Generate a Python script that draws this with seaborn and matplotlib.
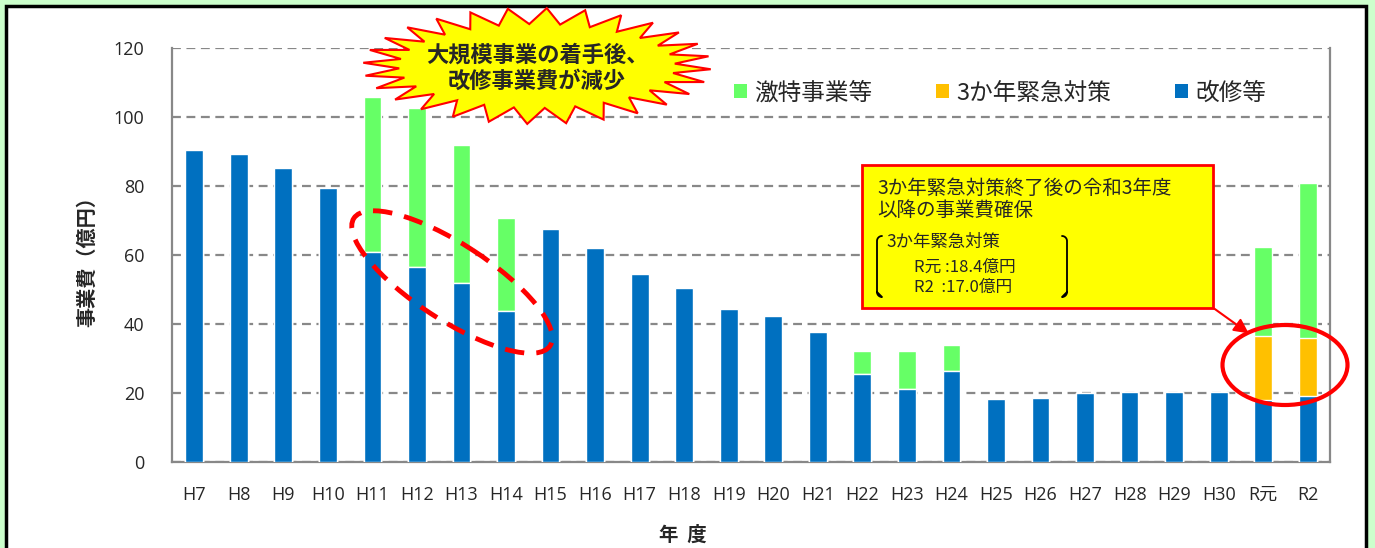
#======================================
#|   改修事業費の推移 (stacked bars)   |
#======================================

import numpy as np
import pandas as pd
import matplotlib
matplotlib.use("Agg")
import matplotlib.pyplot as plt
import seaborn as sns
from matplotlib.patches import Rectangle, Ellipse, Polygon, FancyArrowPatch, Patch

# ===============================
# 1. Data (億円)
# ===============================
years = ["H7", "H8", "H9", "H10", "H11", "H12", "H13", "H14", "H15", "H16",
         "H17", "H18", "H19", "H20", "H21", "H22", "H23", "H24", "H25", "H26",
         "H27", "H28", "H29", "H30", "R元", "R2"]

kaishu = [90.4, 89.2, 85.3, 79.3, 60.8, 56.4, 51.8, 43.8, 67.4, 61.9,
          54.4, 50.3, 44.3, 42.2, 37.8, 25.6, 21.1, 26.4, 18.3, 18.6,
          19.9, 20.3, 20.2, 20.2, 18.0, 19.0]

kinkyu = [0, 0, 0, 0, 0, 0, 0, 0, 0, 0,
          0, 0, 0, 0, 0, 0, 0, 0, 0, 0,
          0, 0, 0, 0, 18.4, 17.0]

gekitoku = [0, 0, 0, 0, 45.0, 46.2, 40.1, 27.0, 0, 0,
            0, 0, 0, 0, 0, 6.7, 11.0, 7.4, 0, 0,
            0, 0, 0, 0, 26.0, 44.8]

series_labels = ["激特事業等", "3か年緊急対策", "改修等"]
yticks = [0, 20, 40, 60, 80, 100, 120]

df = pd.DataFrame({"year": years, "kaishu": kaishu,
                   "kinkyu": kinkyu, "gekitoku": gekitoku})
df["mid"] = df["kaishu"] + df["kinkyu"]
df["total"] = df["mid"] + df["gekitoku"]

GREEN = "#66FF66"
ORANGE = "#FFC000"
BLUE = "#0070C0"
GRID = "#888888"

# ===============================
# 2. Figure setup
# ===============================
sns.set_style("white")
plt.rcParams["font.family"] = ["Open Sans", "Noto Sans CJK JP", "DejaVu Sans"]
JP = ["Noto Sans CJK JP", "DejaVu Sans"]

W, H = 1375, 548
fig = plt.figure(figsize=(W / 100, H / 100), dpi=100)
fig.patch.set_facecolor("#CCFFCC")

# background frame (white panel with black border)
bg = fig.add_axes([0, 0, 1, 1], zorder=0)
bg.set_xlim(0, W)
bg.set_ylim(H, 0)
bg.axis("off")
bg.add_patch(Rectangle((6, 6), 1360, 560, facecolor="white",
                       edgecolor="black", lw=2.5))

# main chart axes
ax = fig.add_axes([172 / W, 1 - 462 / H, (1330 - 172) / W, (462 - 48) / H], zorder=1)
ax.set_facecolor("none")

# stacked bars drawn as cumulative layers
sns.barplot(data=df, x="year", y="total", color=GREEN, width=0.4,
            saturation=1, ax=ax, zorder=3)
sns.barplot(data=df, x="year", y="mid", color=ORANGE, width=0.4,
            saturation=1, ax=ax, zorder=3)
sns.barplot(data=df, x="year", y="kaishu", color=BLUE, width=0.4,
            saturation=1, ax=ax, zorder=3)

ax.set_ylim(0, 120)
ax.set_xlim(-0.5, len(years) - 0.5)
ax.set_yticks(yticks)
ax.yaxis.grid(True, linestyle=(0, (4, 2.5)), color=GRID, lw=1.6, zorder=1)
ax.set_axisbelow(True)

for side in ["left", "bottom", "right"]:
    ax.spines[side].set_color(GRID)
    ax.spines[side].set_linewidth(1.6)
ax.spines["top"].set_visible(False)

ax.tick_params(axis="y", direction="in", length=5, color=GRID, width=1.2,
               pad=20, labelsize=13)
ax.tick_params(axis="x", which="major", length=0, pad=17, labelsize=13)
ax.set_xticks(np.arange(len(years)) + 0.5, minor=True)
ax.tick_params(axis="x", which="minor", direction="in", length=5,
               color=GRID, width=1.2)

ax.set_xlabel("")
ax.set_ylabel("")

# legend
handles = [Patch(facecolor=c, edgecolor="none") for c in [GREEN, ORANGE, BLUE]]
fig.legend(handles, series_labels, loc="center left",
           bbox_to_anchor=(713 / W, 1 - 93 / H), ncol=3, frameon=False,
           prop={"family": JP, "size": 17}, handlelength=0.55,
           handleheight=0.55, handletextpad=0.3, columnspacing=2.7)

# ===============================
# 3. Annotations (pixel overlay)
# ===============================
ov = fig.add_axes([0, 0, 1, 1], zorder=5)
ov.set_xlim(0, W)
ov.set_ylim(H, 0)
ov.axis("off")

# axis titles
ov.text(683, 535, "年  度", family=JP, fontsize=14, fontweight="bold",
        ha="center", va="center")
ov.text(87, 257, "事業費（億円）", family=JP, fontsize=14.5, fontweight="bold",
        ha="center", va="center", rotation=90)

# starburst
n = 28
ang = np.linspace(0, 2 * np.pi, 2 * n, endpoint=False) + np.pi / (2 * n)
rx = np.where(np.arange(2 * n) % 2 == 0, 174, 138)
ry = np.where(np.arange(2 * n) % 2 == 0, 58, 42)
cx, cy = 537, 66
star = np.column_stack([cx + rx * np.cos(ang), cy + ry * np.sin(ang)])
ov.add_patch(Polygon(star, closed=True, facecolor="#FFFF00",
                     edgecolor="#FF0000", lw=1.5))
ov.text(cx, 55, "大規模事業の着手後、", family=JP, fontsize=16,
        fontweight="bold", ha="center", va="center")
ov.text(cx, 81, "改修事業費が減少", family=JP, fontsize=16,
        fontweight="bold", ha="center", va="center")

# dashed ellipse around H11-H14
ov.add_patch(Ellipse((452, 282), 234, 76, angle=33, fill=False,
                     edgecolor="#FF0000", lw=3.5, linestyle=(0, (4, 2.5))))

# red circle around R元/R2
ov.add_patch(Ellipse((1285, 365), 125, 80, fill=False,
                     edgecolor="#FF0000", lw=3))

# yellow call-out box
ov.add_patch(Rectangle((862, 165), 351, 143, facecolor="#FFFF00",
                       edgecolor="#FF0000", lw=2))
ov.text(877, 188, "3か年緊急対策終了後の令和3年度", family=JP, fontsize=14,
        ha="left", va="center")
ov.text(877, 211, "以降の事業費確保", family=JP, fontsize=14,
        ha="left", va="center")
ov.text(886, 242, "3か年緊急対策", family=JP, fontsize=12.5,
        ha="left", va="center")
ov.text(914, 267, "R元 :18.4億円", family=JP, fontsize=12,
        ha="left", va="center")
ov.text(914, 287, "R2  :17.0億円", family=JP, fontsize=12,
        ha="left", va="center")

# brackets inside the box
t = np.linspace(0, np.pi / 2, 10)
lx = np.concatenate([882 - 5 * np.sin(t), [877, 877], 877 + 5 * (1 - np.cos(t[::-1]))])
ly = np.concatenate([236 - 5 * np.cos(t) + 5, [241, 292], 292 + 5 * np.sin(t[::-1])])
ov.plot(lx, ly, color="black", lw=1.3)
ov.plot(2 * 972 - lx, ly, color="black", lw=1.3)

# arrow to the circle
ov.add_patch(FancyArrowPatch((1212, 307), (1251, 335), arrowstyle="-|>",
                             mutation_scale=22, color="#FF0000", lw=1.5))

fig.savefig("out.png", dpi=100, facecolor=fig.get_facecolor())
